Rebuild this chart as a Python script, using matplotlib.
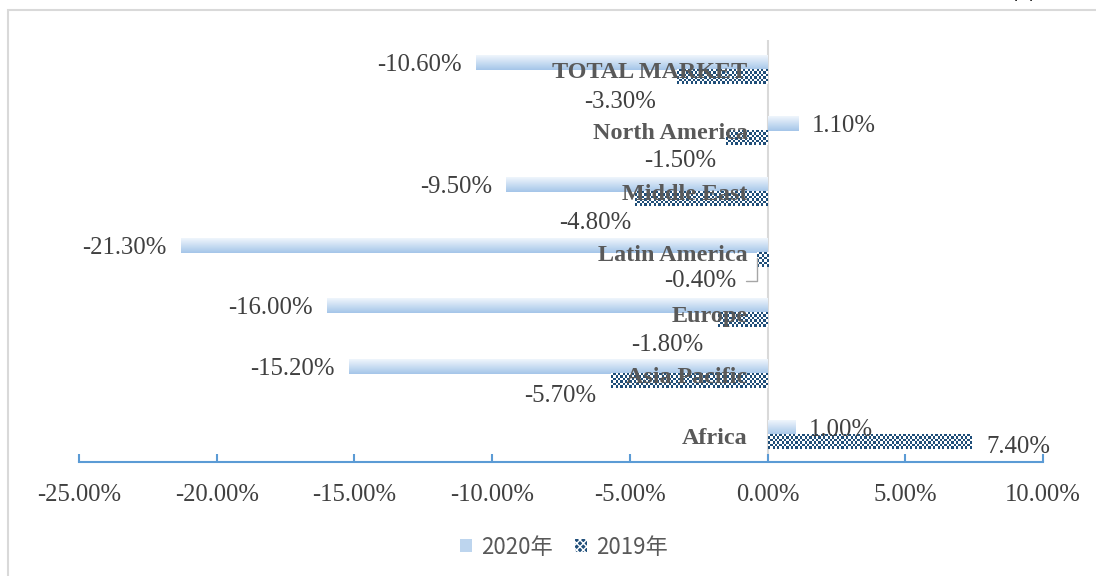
import matplotlib
matplotlib.use('Agg')
import matplotlib.pyplot as plt
import numpy as np
from matplotlib.colors import LinearSegmentedColormap, ListedColormap
from matplotlib.patches import Rectangle, Patch

plt.rcParams['font.family'] = ['Liberation Serif', 'Noto Sans CJK SC']

# 数据
regions = ['Africa', 'Asia Pacific', 'Europe', 'Latin America',
           'Middle East', 'North America', 'TOTAL MARKET']
y2020 = [1.0, -15.2, -16.0, -21.3, -9.5, 1.1, -10.6]
y2019 = [7.4, -5.7, -1.8, -0.4, -4.8, -1.5, -3.3]
xticks = [-25, -20, -15, -10, -5, 0, 5, 10]
series = ['2020年', '2019年']
# 2019 标签偏移 (像素, 相对柱端)
off2019 = [(47, -5), (-50, -15), (-51, -25), (-56, -23), (-40, -24), (-46, -23), (-57, -25)]

W, H = 1096, 576
fig = plt.figure(figsize=(W / 100, H / 100), dpi=100)
fig.patch.set_facecolor('white')
ax = fig.add_axes([79 / W, 1 - 462 / H, 964 / W, 422.5 / H])
ylim = (-0.44, 6.5)

bh = 0.23
pxx = 964 / 35.0
pxy = 422.5 / (ylim[1] - ylim[0])

grad = LinearSegmentedColormap.from_list('g', ['#eff5fc', '#a5c6e9'])
checker = ListedColormap(['white', '#1f4e79'])

# 2020 渐变柱
for i, v in enumerate(y2020):
    yc = i + bh / 2
    arr = np.linspace(0, 1, 30).reshape(-1, 1)
    ax.imshow(arr, cmap=grad, aspect='auto', interpolation='bilinear',
              extent=[min(0, v), max(0, v), yc - bh / 2, yc + bh / 2], zorder=2)

# 2019 网格柱
cell = 2.3
for i, v in enumerate(y2019):
    yc = i - bh / 2
    nx = max(1, int(round(abs(v) * pxx / cell)))
    ny = max(1, int(round(bh * pxy / cell)))
    arr = np.indices((ny, nx)).sum(axis=0) % 2
    ax.imshow(arr, cmap=checker, aspect='auto', interpolation='nearest',
              extent=[min(0, v), max(0, v), yc - bh / 2, yc + bh / 2], zorder=2)

ax.set_xlim(-25, 10)
ax.set_ylim(*ylim)

# 零线
ax.axvline(0, color='#d9d9d9', lw=1.5, zorder=1)

# 坐标轴
for s in ['top', 'right', 'left']:
    ax.spines[s].set_visible(False)
ax.spines['bottom'].set_color('#5b9bd5')
ax.spines['bottom'].set_linewidth(1.5)
ax.set_yticks([])
ax.set_xticks(xticks)
ax.set_xticklabels(['%.2f%%' % t for t in xticks])
ax.tick_params(axis='x', direction='in', length=6, width=1.5, color='#5b9bd5',
               labelsize=17.7, labelcolor='#404040', pad=16)

lab = dict(fontsize=17.8, color='#404040', textcoords='offset pixels', va='center')

# 类别标签
for i, name in enumerate(regions):
    ax.annotate(name, xy=(0, i), xytext=(-20, -3), ha='right', fontweight='bold',
                **dict(lab, color='#595959', fontsize=17.4), zorder=5)

# 2020 数据标签
for i, v in enumerate(y2020):
    if v < 0:
        ax.annotate('%.2f%%' % v, xy=(v, i + bh / 2), xytext=(-14, -2), ha='right', **lab)
    else:
        ax.annotate('%.2f%%' % v, xy=(v, i + bh / 2), xytext=(14, -2), ha='left', **lab)

# 2019 数据标签
for i, v in enumerate(y2019):
    dx, dy = off2019[i]
    if regions[i] == 'Latin America':
        ax.annotate('%.2f%%' % v, xy=(v, i - bh / 2 + 0.03), xytext=(dx, dy), ha='center',
                    arrowprops=dict(arrowstyle='-', color='#a6a6a6', lw=1,
                                    connectionstyle='angle,angleA=0,angleB=90,rad=0',
                                    shrinkA=5, shrinkB=0), **lab)
    else:
        ax.annotate('%.2f%%' % v, xy=(v, i - bh / 2), xytext=(dx, dy), ha='center', **lab)

# 图例
handles = [Patch(facecolor='#bdd5ee', edgecolor='none', label=series[0]),
           Patch(facecolor='#1f4e79', edgecolor='white', hatch='xxxxx', lw=0, label=series[1])]
fig.legend(handles=handles, loc='center', bbox_to_anchor=(564 / W, 1 - 547 / H), ncol=2,
           frameon=False, handlelength=0.55, handleheight=0.55, handletextpad=0.4,
           columnspacing=1.0, prop={'family': ['Noto Sans CJK SC'], 'size': 16},
           labelcolor='#595959')

# 外框
fig.patches.append(Rectangle((8 / W, -0.1), 1.2, 1.1 - 10 / H, transform=fig.transFigure,
                             fill=False, edgecolor='#d9d9d9', lw=1.5))
fig.text(1005 / W, 1 - 4 / H, '单位：%', fontsize=16, family=['Noto Sans CJK SC'],
         va='bottom', ha='left', color='#262626')

fig.savefig('out.png', dpi=100)
